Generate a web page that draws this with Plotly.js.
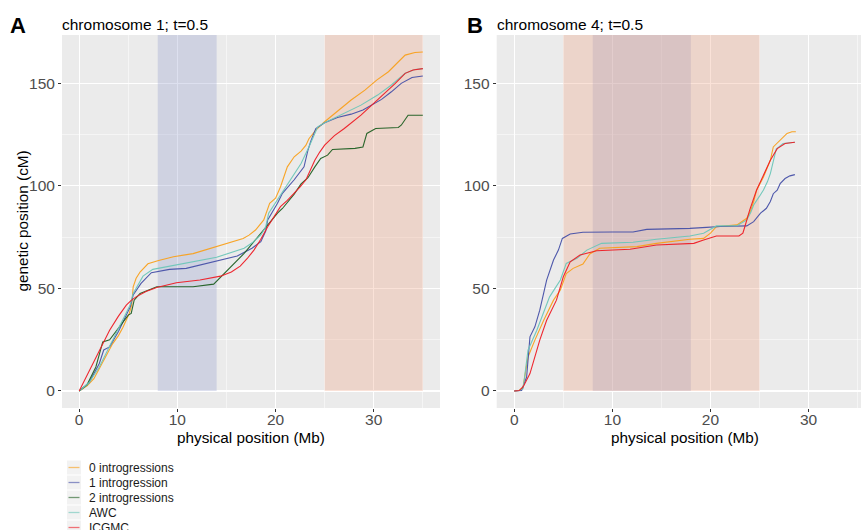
<!DOCTYPE html>
<html>
<head>
<meta charset="utf-8">
<script src="https://cdn.plot.ly/plotly-3.0.1.min.js"></script>
<style>
  html, body { margin: 0; padding: 0; background: #ffffff; overflow: hidden; }
  #chart { width: 861px; height: 530px; }
</style>
</head>
<body>
<div id="chart"></div>
<script>
// ---------------- data ----------------
const seriesNames = ["0 introgressions", "1 introgression", "2 introgressions", "AWC", "ICGMC"];
const seriesColors = ["#F9A01B", "#4650A8", "#1F5F22", "#6CC6B8", "#EE1C25"];

// Panel A: chromosome 1
const a0x = [0, 0.8, 1.5, 2.05, 2.7, 3.4, 4.0, 4.45, 5.1, 5.35, 5.5, 5.8, 6.2, 7.0, 8.0, 9.6, 11.6, 14.0, 16.7, 17.3, 17.96, 18.8, 19.1, 19.4, 20.0, 20.5, 21.2, 21.9, 22.6, 23.1, 23.4, 24.1, 25.0, 26.3, 27.7, 29.1, 30.3, 31.5, 32.5, 33.2, 34.2, 35.0];
const a0y = [0, 2.5, 6, 10.9, 17, 23, 27, 31, 37.8, 42, 50.8, 55, 58, 62, 63.5, 65.5, 67, 70.4, 74.4, 76, 78.5, 83.4, 88, 91.5, 94, 99.5, 109.3, 114.2, 117, 119.9, 123, 127.2, 131.3, 136.2, 141.9, 146.7, 151.6, 155.7, 160.6, 163.8, 165.1, 165.3];

const a1x = [0, 1.0, 2.05, 2.5, 3.1, 4.0, 4.8, 5.2, 5.5, 5.9, 6.3, 7.35, 9.2, 10.9, 13.3, 16.1, 17.6, 18.5, 19.0, 19.2, 20.2, 20.7, 21.9, 22.9, 23.3, 23.6, 24.1, 25.0, 26.3, 27.7, 28.9, 29.8, 30.8, 31.8, 32.8, 33.9, 35.0];
const a1y = [0, 4, 13.4, 20, 21.5, 29, 37, 41, 46.8, 50, 52.5, 57.7, 59.3, 59.8, 62.6, 65.8, 69.6, 72.8, 78, 83.4, 91.5, 96.4, 103, 109.3, 117.4, 122, 128, 130.8, 133.4, 135, 137, 139.4, 142.2, 145.9, 150, 152.9, 153.6];

const a2x = [0, 0.8, 1.7, 2.1, 2.4, 3.1, 4.1, 5.0, 5.3, 5.6, 6.2, 7.9, 9.9, 11.6, 13.7, 15.1, 16.8, 18.5, 20.2, 20.7, 21.9, 22.6, 23.3, 24.0, 24.6, 25.3, 25.8, 28.1, 28.9, 29.3, 30.2, 32.5, 32.8, 33.5, 35.0];
const a2y = [0, 3, 11.7, 18, 23.9, 25, 31.3, 37, 37.8, 44.3, 47.6, 50.8, 50.8, 50.8, 52.1, 59, 67.1, 76.9, 86.7, 89, 96, 101, 104, 109.3, 113.4, 115, 117.8, 118.3, 119, 125.6, 128, 128.5, 129.6, 134.5, 134.5];

const a3x = [0, 1.0, 2.05, 2.7, 3.4, 4.1, 4.8, 5.2, 5.5, 6.0, 6.5, 7.5, 9.9, 14.0, 16.8, 17.7, 18.5, 19.0, 19.3, 20.5, 21.2, 22.6, 23.4, 24.3, 25.0, 27.0, 28.7, 30.4, 31.8, 33.2, 34.2, 35.0];
const a3y = [0, 4, 11.7, 18, 24.8, 31, 37.8, 42, 47.6, 52, 56, 59.3, 61.4, 65.2, 69.6, 72.5, 76.1, 80, 86.7, 95.6, 101, 110.9, 119, 128.8, 130.8, 135.3, 139.4, 144.3, 149.2, 154.9, 156.8, 157.2];

const a4x = [0, 0.7, 1.4, 2.2, 3.1, 4.0, 4.8, 5.3, 5.8, 6.8, 7.9, 9.9, 12.3, 14.4, 15.5, 16.4, 17.1, 17.8, 18.5, 19.2, 19.9, 20.5, 21.2, 21.9, 22.5, 23.1, 23.6, 24.0, 24.5, 25.0, 26.0, 27.0, 28.7, 30.4, 32.2, 33.2, 34.0, 35.0];
const a4y = [0, 6.5, 13.4, 21, 29.6, 36.5, 41.9, 44.2, 45.9, 48.5, 50.5, 52.8, 54.1, 56, 58, 60.9, 64.5, 68.7, 74, 80.1, 85.5, 89.9, 93, 96.4, 99.5, 103, 108, 112.5, 116.5, 119.9, 124.5, 128, 134.5, 141.9, 150, 154.9, 156.5, 157.2];

// Panel B: chromosome 4 (no "2 introgressions" series)
const b0x = [0, 0.5, 0.9, 1.4, 2.1, 3.0, 4.0, 4.7, 5.3, 6.0, 7.0, 7.7, 8.7, 10.5, 12.5, 14.5, 16.0, 17.9, 19.3, 20.0, 20.6, 22.7, 23.7, 24.1, 24.4, 24.7, 25.4, 26.1, 26.4, 27.1, 27.8, 28.3, 28.7];
const b0y = [0, 0.3, 2, 16.6, 24.8, 34.5, 44.3, 49.2, 57.3, 59.8, 61.9, 66.8, 69.6, 70, 70.4, 72, 73, 74, 74.4, 77, 80.1, 81, 84.2, 88, 92.4, 97.9, 104.4, 112.5, 119, 122.3, 125.6, 126.4, 126.4];

const b1x = [0, 0.75, 1.26, 1.6, 2.1, 2.6, 3.3, 4.0, 4.5, 4.9, 5.7, 7.0, 10.0, 12.1, 13.5, 16.0, 17.9, 19.6, 21.0, 23.7, 24.4, 25.1, 25.7, 26.1, 26.4, 26.8, 27.1, 27.6, 28.1, 28.6];
const b1y = [0, 0.3, 6.8, 26.4, 31.3, 39.4, 54.1, 63.9, 68.7, 74.4, 76.6, 77.4, 77.5, 77.5, 78.8, 79, 79.3, 79.8, 80.2, 80.5, 82.6, 86.7, 89.1, 92.4, 96.2, 97.9, 101.1, 103.6, 104.9, 105.5];

const b3x = [0, 0.5, 0.9, 1.4, 2.3, 3.6, 4.7, 5.3, 6.4, 7.4, 8.9, 10.5, 12.1, 14.5, 16.0, 17.9, 19.3, 20.0, 20.6, 22.7, 23.7, 24.1, 24.4, 25.0, 25.4, 25.8, 26.1, 26.4, 26.7, 27.4, 28.0, 28.6];
const b3y = [0, 0.2, 1.1, 19.9, 29.6, 45.9, 54.1, 62.2, 64.7, 68.7, 72, 72.2, 72.5, 74, 74.8, 75.6, 76.9, 79, 80.5, 80.6, 83.4, 87, 90.7, 95, 98, 102, 106, 112, 118, 120.7, 121.1, 121.3];

const b4x = [0, 0.5, 0.9, 1.6, 2.6, 3.3, 4.3, 5.0, 5.7, 6.7, 8.4, 11.8, 14.5, 18.3, 19.3, 20.6, 22.9, 23.3, 23.5, 24.0, 24.7, 25.2, 25.6, 26.1, 26.8, 27.6, 28.6];
const b4y = [0, 0.2, 2, 8.5, 24.8, 34.5, 44.3, 55.7, 63, 66.3, 68.4, 69.1, 71.2, 72, 73.6, 75.6, 75.6, 77, 80.1, 88.3, 98, 103, 107, 112.5, 118.2, 120.7, 121.3];

// highlighted regions (Mb)
const aBlueBand = [8, 14];
const aOrangeBand = [25, 35];
const bBlueBand = [8, 18];
const bOrangeBand = [5, 25];

const xTicks = [0, 10, 20, 30];
const yTicks = [0, 50, 100, 150];

// ---------------- helpers ----------------
const W = 861, H = 530;
const px = v => v / W;
const py = v => 1 - v / H;
const FONT = "Liberation Sans, Arial, Helvetica, sans-serif";

function line(x, y, i, xa, ya) {
  return {
    type: "scatter", mode: "lines", x: x, y: y, name: seriesNames[i],
    xaxis: xa, yaxis: ya, showlegend: false,
    line: { color: seriesColors[i], width: 1.1 },
    opacity: 0.95, hoverinfo: "x+y+name"
  };
}

const traces = [
  line(a0x, a0y, 0, "x", "y"),
  line(a1x, a1y, 1, "x", "y"),
  line(a2x, a2y, 2, "x", "y"),
  line(a3x, a3y, 3, "x", "y"),
  line(a4x, a4y, 4, "x", "y"),
  line(b0x, b0y, 0, "x2", "y2"),
  line(b1x, b1y, 1, "x2", "y2"),
  line(b3x, b3y, 3, "x2", "y2"),
  line(b4x, b4y, 4, "x2", "y2")
];

const yRange = [-8.3, 173.6];

function xAxis(domain, range, anchor) {
  return {
    domain: domain, range: range, anchor: anchor,
    tickvals: xTicks, ticks: "outside", ticklen: 3, tickwidth: 1, tickcolor: "#333333",
    tickfont: { family: FONT, size: 15.5, color: "#4D4D4D" },
    ticklabelstandoff: -6,
    showgrid: true, gridcolor: "#FFFFFF", gridwidth: 1.1,
    minor: { dtick: 5, tick0: 5, showgrid: true, gridcolor: "#FFFFFF", gridwidth: 0.5, ticks: "" },
    zeroline: false, showline: false, fixedrange: true
  };
}
function yAxis(domain, anchor) {
  return {
    domain: domain, range: yRange, anchor: anchor,
    tickvals: yTicks, ticks: "outside", ticklen: 3, tickwidth: 1, tickcolor: "#333333",
    tickfont: { family: FONT, size: 15.5, color: "#4D4D4D" },
    showgrid: true, gridcolor: "#FFFFFF", gridwidth: 1.1,
    minor: { dtick: 25, tick0: 25, showgrid: true, gridcolor: "#FFFFFF", gridwidth: 0.5, ticks: "" },
    zeroline: false, showline: false, fixedrange: true
  };
}

const yDom = [(H - 408) / H, (H - 35) / H];

const blueFill = "rgba(150,160,205,0.32)";
const orangeFill = "rgba(238,166,134,0.32)";

function band(xr, fill, xa, ya) {
  return {
    type: "rect", xref: xa, yref: ya, x0: xr[0], x1: xr[1], y0: 0, y1: yRange[1],
    fillcolor: fill, line: { width: 0 }, layer: "between"
  };
}

const shapes = [
  band(aBlueBand, blueFill, "x", "y"),
  band(aOrangeBand, orangeFill, "x", "y"),
  band(bBlueBand, blueFill, "x2", "y2"),
  band(bOrangeBand, orangeFill, "x2", "y2")
];

const annotations = [
  { text: "A", x: px(17.5), y: py(25.5), xref: "paper", yref: "paper", showarrow: false,
    xanchor: "center", yanchor: "middle", font: { family: FONT, size: 22, color: "#000", weight: "bold" } },
  { text: "B", x: px(475), y: py(25.5), xref: "paper", yref: "paper", showarrow: false,
    xanchor: "center", yanchor: "middle", font: { family: FONT, size: 22, color: "#000", weight: "bold" } },
  { text: "chromosome 1; t=0.5", x: px(60), y: py(24.5), xref: "paper", yref: "paper", showarrow: false,
    xanchor: "left", yanchor: "middle", font: { family: FONT, size: 15.5, color: "#000" } },
  { text: "chromosome 4; t=0.5", x: px(495), y: py(24.5), xref: "paper", yref: "paper", showarrow: false,
    xanchor: "left", yanchor: "middle", font: { family: FONT, size: 15.5, color: "#000" } },
  { text: "physical position (Mb)", x: px(251), y: py(437), xref: "paper", yref: "paper", showarrow: false,
    xanchor: "center", yanchor: "middle", font: { family: FONT, size: 15.3, color: "#000" } },
  { text: "physical position (Mb)", x: px(685), y: py(437), xref: "paper", yref: "paper", showarrow: false,
    xanchor: "center", yanchor: "middle", font: { family: FONT, size: 15.3, color: "#000" } },
  { text: "genetic position (cM)", x: px(22), y: py(221.5), xref: "paper", yref: "paper", showarrow: false,
    textangle: -90, xanchor: "center", yanchor: "middle", font: { family: FONT, size: 15.3, color: "#000" } }
];

// legend (bottom-left), built from the series names / colours
const legendTop = 467.5, legendStep = 15;
seriesNames.forEach((name, i) => {
  const cy = legendTop + i * legendStep;
  shapes.push({
    type: "rect", xref: "paper", yref: "paper",
    x0: px(67), x1: px(81), y0: py(cy - 7), y1: py(cy + 7),
    fillcolor: "#F2F2F2", line: { width: 0 }, layer: "above"
  });
  shapes.push({
    type: "line", xref: "paper", yref: "paper",
    x0: px(68.5), x1: px(79.5), y0: py(cy), y1: py(cy),
    line: { color: seriesColors[i], width: 1.3 }, opacity: 0.6, layer: "above"
  });
  annotations.push({
    text: name, x: px(86.5), y: py(cy), xref: "paper", yref: "paper", showarrow: false,
    xanchor: "left", yanchor: "middle", font: { family: FONT, size: 12, color: "#1A1A1A" }
  });
});

const layout = {
  width: W, height: H,
  margin: { l: 0, r: 0, t: 0, b: 0, autoexpand: false },
  paper_bgcolor: "#FFFFFF", plot_bgcolor: "#EBEBEB",
  showlegend: false,
  xaxis: xAxis([62 / W, 440 / W], [-1.75, 36.75], "y"),
  yaxis: yAxis(yDom, "x"),
  xaxis2: xAxis([496.7 / W, 1], [-1.79, 35.34], "y2"),
  yaxis2: yAxis(yDom, "x2"),
  shapes: shapes,
  annotations: annotations
};

Plotly.newPlot("chart", traces, layout, { staticPlot: true, displayModeBar: false });
</script>
</body>
</html>
